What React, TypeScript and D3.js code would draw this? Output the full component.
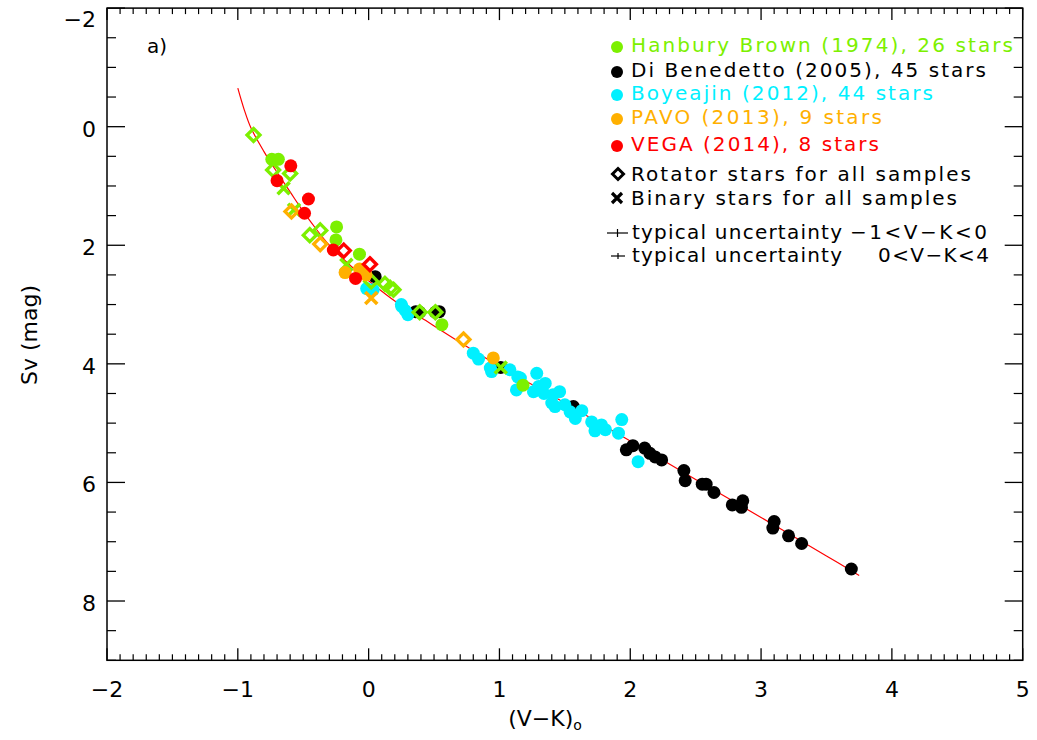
import React from "react";
import * as d3 from "d3";

type P = [number, number];

// ---- data (V-K)0 , Sv ----
const hanburyCircles: P[] = [[-0.74, 0.55], [-0.69, 0.55], [-0.245, 1.69], [-0.25, 1.91], [-0.07, 2.15], [0.56, 3.34], [1.18, 4.36]];
const hanburyRotators: P[] = [[-0.88, 0.14], [-0.73, 0.73], [-0.6, 0.79], [-0.45, 1.83], [-0.37, 1.75], [0.02, 2.61], [0.125, 2.65], [0.165, 2.72], [0.19, 2.75], [0.39, 3.13], [0.51, 3.13]];
const hanburyBinaries: P[] = [[-0.65, 1.04], [-0.57, 1.4], [-0.17, 2.33], [1.01, 4.06]];

const diBenedetto: P[] = [[0.05, 2.53], [0.36, 3.12], [0.39, 3.13], [0.51, 3.13], [0.54, 3.12], [1.01, 4.06], [1.565, 4.72], [1.97, 5.45], [2.02, 5.38], [2.11, 5.42], [2.15, 5.51], [2.19, 5.57], [2.24, 5.62], [2.41, 5.8], [2.42, 5.97], [2.55, 6.03], [2.58, 6.03], [2.64, 6.17], [2.78, 6.38], [2.86, 6.31], [2.85, 6.42], [3.1, 6.66], [3.09, 6.77], [3.21, 6.9], [3.31, 7.03], [3.69, 7.46]];

const boyajian: P[] = [[-0.015, 2.73], [0.035, 2.75], [0.25, 3.0], [0.253, 3.03], [0.3, 3.17], [0.28, 3.1], [0.8, 3.82], [0.84, 3.92], [0.93, 4.07], [0.94, 4.13], [1.08, 4.1], [1.14, 4.22], [1.16, 4.24], [1.285, 4.16], [1.13, 4.44], [1.26, 4.47], [1.35, 4.33], [1.34, 4.5], [1.3, 4.38], [1.46, 4.47], [1.41, 4.52], [1.4, 4.66], [1.425, 4.72], [1.5, 4.69], [1.63, 4.79], [1.54, 4.81], [1.58, 4.92], [1.705, 4.98], [1.78, 5.03], [1.73, 5.13], [1.81, 5.11], [1.91, 5.17], [1.935, 4.94], [2.06, 5.65]];

const pavoCircles: P[] = [[-0.18, 2.46], [-0.07, 2.4], [-0.02, 2.5], [0.953, 3.9]];
const pavoRotators: P[] = [[-0.59, 1.43], [-0.37, 1.98], [0.725, 3.59]];
const pavoBinaries: P[] = [[0.02, 2.89]];

const vegaCircles: P[] = [[-0.595, 0.66], [-0.7, 0.91], [-0.46, 1.22], [-0.49, 1.46], [-0.27, 2.08], [-0.1, 2.56]];
const vegaRotators: P[] = [[-0.19, 2.09], [0.01, 2.32]];

const fitCurve: P[] = [[-1.0, -0.65], [-0.95, -0.28], [-0.9, 0.02], [-0.8, 0.42], [-0.7, 0.77], [-0.6, 1.1], [-0.5, 1.43], [-0.4, 1.73], [-0.3, 2.0], [-0.2, 2.22], [-0.1, 2.42], [0, 2.6], [0.2, 2.94], [0.4, 3.22], [0.7, 3.64], [1.0, 4.04], [1.5, 4.66], [2.0, 5.3], [2.5, 5.95], [3.0, 6.59], [3.5, 7.24], [3.75, 7.57]];

const xTickLabels = ["−2", "−1", "0", "1", "2", "3", "4", "5"];
const yTickLabels = ["−2", "0", "2", "4", "6", "8"];

const GREEN = "#7cf000";
const BLACK = "#000000";
const CYAN = "#00f0ff";
const ORANGE = "#ffb000";
const RED = "#ff0000";

const FONT = "DejaVu Sans, sans-serif";

const W = 1037, H = 740;
const X0 = 107, X1 = 1022.7, Y0 = 8.1, Y1 = 660.3;

const x = d3.scaleLinear().domain([-2, 5]).range([X0, X1]);
const y = d3.scaleLinear().domain([-2, 9]).range([Y0, Y1]);

const diamondPath = (s: number) => `M0,${-s}L${s},0L0,${s}L${-s},0Z`;
const crossPath = (s: number) => `M${-s},${-s}L${s},${s}M${-s},${s}L${s},${-s}`;

function Circles({ data, color }: { data: P[]; color: string }) {
  return <g>{data.map((d, i) => <circle key={i} cx={x(d[0])} cy={y(d[1])} r={6.5} fill={color} />)}</g>;
}
function Diamonds({ data, color }: { data: P[]; color: string }) {
  return <g>{data.map((d, i) => <path key={i} transform={`translate(${x(d[0])},${y(d[1])})`} d={diamondPath(6.5)} fill="none" stroke={color} strokeWidth={3.3} />)}</g>;
}
function Crosses({ data, color }: { data: P[]; color: string }) {
  return <g>{data.map((d, i) => <path key={i} transform={`translate(${x(d[0])},${y(d[1])})`} d={crossPath(6)} fill="none" stroke={color} strokeWidth={3.6} />)}</g>;
}

export default function App() {
  const line = d3.line<P>().x(d => x(d[0])).y(d => y(d[1])).curve(d3.curveCatmullRom);
  const xMajor = d3.range(-2, 5.001, 1);
  const xMinor = d3.range(-20, 51, 1).map(v => v / 10).filter(v => Math.abs(v - Math.round(v)) > 1e-6);
  const yMajor = d3.range(-2, 8.001, 2);
  const yMinor = d3.range(-4, 19, 1).map(v => v / 2).filter(v => Math.abs(v / 2 - Math.round(v / 2)) > 1e-6);

  const legendRows: { text: string; color: string; y: number; len: number }[] = [
    { text: "Hanbury Brown (1974), 26 stars", color: GREEN, y: 45, len: 382 },
    { text: "Di Benedetto (2005), 45 stars", color: BLACK, y: 70, len: 355 },
    { text: "Boyeajin (2012), 44 stars", color: CYAN, y: 93, len: 302 },
    { text: "PAVO (2013), 9 stars", color: ORANGE, y: 117, len: 251 },
    { text: "VEGA (2014), 8 stars", color: RED, y: 144, len: 248 },
  ];

  return (
    <svg width={W} height={H} style={{ position: "absolute", left: 0, top: 0, background: "#fff" }} fontFamily={FONT}>
      <rect x={0} y={0} width={W} height={H} fill="#fff" />
      {/* fit curve */}
      <path d={line(fitCurve) || ""} fill="none" stroke={RED} strokeWidth={1.2} />

      {/* data */}
      <Circles data={diBenedetto} color={BLACK} />
      <Circles data={boyajian} color={CYAN} />
      <Circles data={hanburyCircles} color={GREEN} />
      <Diamonds data={hanburyRotators} color={GREEN} />
      <Crosses data={hanburyBinaries} color={GREEN} />
      <Circles data={pavoCircles} color={ORANGE} />
      <Diamonds data={pavoRotators} color={ORANGE} />
      <Crosses data={pavoBinaries} color={ORANGE} />
      <Circles data={vegaCircles} color={RED} />
      <Diamonds data={vegaRotators} color={RED} />

      {/* frame */}
      <rect x={X0} y={Y0} width={X1 - X0} height={Y1 - Y0} fill="none" stroke="#000" strokeWidth={1.5} />
      {xMajor.map(v => (
        <g key={"xM" + v}>
          <line x1={x(v)} x2={x(v)} y1={Y1} y2={Y1 - 12} stroke="#000" strokeWidth={1.3} />
          <line x1={x(v)} x2={x(v)} y1={Y0} y2={Y0 + 12} stroke="#000" strokeWidth={1.3} />
        </g>
      ))}
      {xMinor.map(v => (
        <g key={"xm" + v}>
          <line x1={x(v)} x2={x(v)} y1={Y1} y2={Y1 - 6} stroke="#000" strokeWidth={1.2} />
          <line x1={x(v)} x2={x(v)} y1={Y0} y2={Y0 + 6} stroke="#000" strokeWidth={1.2} />
        </g>
      ))}
      {yMajor.map(v => (
        <g key={"yM" + v}>
          <line x1={X0} x2={X0 + 18} y1={y(v)} y2={y(v)} stroke="#000" strokeWidth={1.3} />
          <line x1={X1} x2={X1 - 18} y1={y(v)} y2={y(v)} stroke="#000" strokeWidth={1.3} />
        </g>
      ))}
      {yMinor.map(v => (
        <g key={"ym" + v}>
          <line x1={X0} x2={X0 + 9} y1={y(v)} y2={y(v)} stroke="#000" strokeWidth={1.2} />
          <line x1={X1} x2={X1 - 9} y1={y(v)} y2={y(v)} stroke="#000" strokeWidth={1.2} />
        </g>
      ))}

      {/* tick labels */}
      {xMajor.map((v, i) => (
        <text key={"xl" + v} x={x(v)} y={697} fontSize={22} textAnchor="middle">{xTickLabels[i]}</text>
      ))}
      {yMajor.map((v, i) => (
        <text key={"yl" + v} x={96} y={Math.max(y(v) + 10, 27)} fontSize={22} textAnchor="end">{yTickLabels[i]}</text>
      ))}

      {/* axis titles */}
      <text x={545} y={726} fontSize={22} textAnchor="middle">(V−K)<tspan fontSize={14} dy={4}>o</tspan></text>
      <text transform="translate(37,335) rotate(-90)" fontSize={22} textAnchor="middle">Sv (mag)</text>

      <text x={147} y={53} fontSize={20}>a)</text>

      {/* legend */}
      {legendRows.map((r, i) => (
        <g key={"lg" + i}>
          <circle cx={617} cy={r.y + 2} r={6} fill={r.color} />
          <text x={631} y={r.y + 7} fontSize={20} fill={r.color} textLength={r.len}>{r.text}</text>
        </g>
      ))}
      <path transform="translate(618,174)" d={diamondPath(5.5)} fill="none" stroke="#000" strokeWidth={3} />
      <text x={631} y={181} fontSize={20} textLength={340}>Rotator stars for all samples</text>
      <path transform="translate(617,198)" d={crossPath(5)} fill="none" stroke="#000" strokeWidth={3.2} />
      <text x={631} y={205} fontSize={20} textLength={326}>Binary stars for all samples</text>

      <line x1={607} x2={628} y1={233} y2={233} stroke="#000" strokeWidth={1.2} />
      <line x1={617.5} x2={617.5} y1={229} y2={237} stroke="#000" strokeWidth={1.2} />
      <text x={632} y={239} fontSize={20} textLength={210}>typical uncertainty</text>
      <text x={850} y={239} fontSize={20} textLength={137}>−1&lt;V−K&lt;0</text>

      <line x1={611} x2={625} y1={256} y2={256} stroke="#000" strokeWidth={1.2} />
      <line x1={618} x2={618} y1={253} y2={259} stroke="#000" strokeWidth={1.2} />
      <text x={632} y={262} fontSize={20} textLength={210}>typical uncertainty</text>
      <text x={878} y={262} fontSize={20} textLength={111}>0&lt;V−K&lt;4</text>
    </svg>
  );
}
